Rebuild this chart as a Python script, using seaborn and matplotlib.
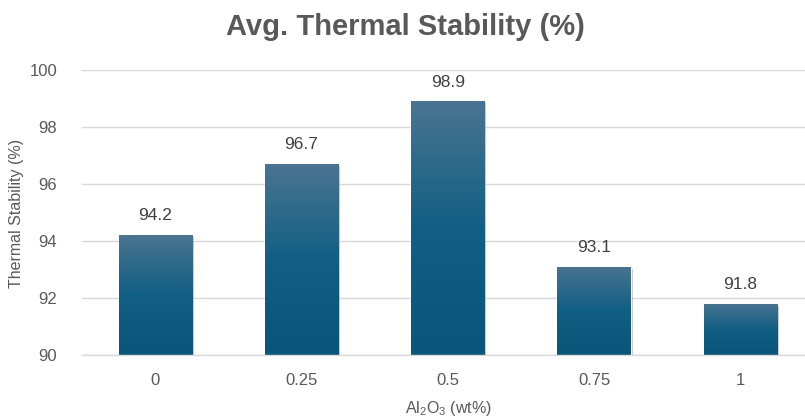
import numpy as np
import pandas as pd
import matplotlib
matplotlib.use("Agg")
import matplotlib.pyplot as plt
import matplotlib.patheffects as pe
from matplotlib.colors import LinearSegmentedColormap
import seaborn as sns

categories = ["0", "0.25", "0.5", "0.75", "1"]
values = [94.2, 96.7, 98.9, 93.1, 91.8]
yticks = [90, 92, 94, 96, 98, 100]

title = "Avg. Thermal Stability (%)"
xlabel = "Al$_2$O$_3$ (wt%)"
ylabel = "Thermal Stability (%)"

sns.set_theme(style="white")
plt.rcParams["font.family"] = ["Liberation Sans", "DejaVu Sans"]
plt.rcParams["mathtext.fontset"] = "custom"
plt.rcParams["mathtext.rm"] = "Liberation Sans"
plt.rcParams["mathtext.it"] = "Liberation Sans"

df = pd.DataFrame({"x": categories, "y": values})

fig = plt.figure(figsize=(8.05, 4.2), dpi=100)
W, H = 805, 420
left, right, top, bottom = 82, 813.5, 70, 355
ax = fig.add_axes([left / W, 1 - bottom / H, (right - left) / W, (bottom - top) / H])

sns.barplot(data=df, x="x", y="y", ax=ax, width=0.5, color="#115f84",
            order=categories)

ax.set_ylim(90, 100)
ax.set_xlim(-0.5, len(categories) - 0.5)
ax.set_yticks(yticks)
ax.yaxis.grid(True, color="#d9d9d9", linewidth=1.0)
ax.set_axisbelow(True)
for s in ["top", "right", "left"]:
    ax.spines[s].set_visible(False)
ax.spines["bottom"].set_color("#d9d9d9")
ax.spines["bottom"].set_linewidth(1.0)
ax.tick_params(axis="both", length=0, labelsize=12, labelcolor="#595959")
ax.tick_params(axis="y", pad=18)
ax.tick_params(axis="x", pad=13)

cmap = LinearSegmentedColormap.from_list(
    "grad", [(0.0, "#4a7491"), (0.5, "#115f84"), (1.0, "#0a557a")])
grad = np.linspace(0, 1, 256).reshape(-1, 1)

for patch, v in zip(ax.patches, values):
    x0 = patch.get_x()
    w = patch.get_width()
    patch.set_path_effects([pe.SimplePatchShadow(offset=(1.5, -1.5), alpha=0.25,
                                                 shadow_rgbFace="#000000"), pe.Normal()])
    im = ax.imshow(grad, cmap=cmap, aspect="auto", extent=[x0, x0 + w, 90, v],
                   origin="upper", zorder=patch.get_zorder() + 0.1)
    im.set_clip_path(patch)
    ax.annotate(f"{v}", xy=(x0 + w / 2, v), xytext=(0, 8.5), textcoords="offset points",
                ha="center", va="bottom", fontsize=12.5, color="#404040")

ax.set_ylim(90, 100)
ax.set_xlim(-0.5, len(categories) - 0.5)

ax.set_xlabel("")
ax.set_ylabel("")
fig.text(448 / W, 1 - 408 / H, xlabel, ha="center", va="center",
         fontsize=11.5, color="#595959")
fig.text(17 / W, 1 - 213 / H, ylabel, ha="center", va="center", rotation=90,
         fontsize=11.5, color="#595959")

fig.text(405 / W, 1 - 27 / H, title, ha="center", va="center", fontsize=21,
         fontweight="bold", color="#595959",
         family=["Liberation Sans Narrow", "Liberation Sans", "DejaVu Sans"])

fig.savefig("out.png", dpi=100)
